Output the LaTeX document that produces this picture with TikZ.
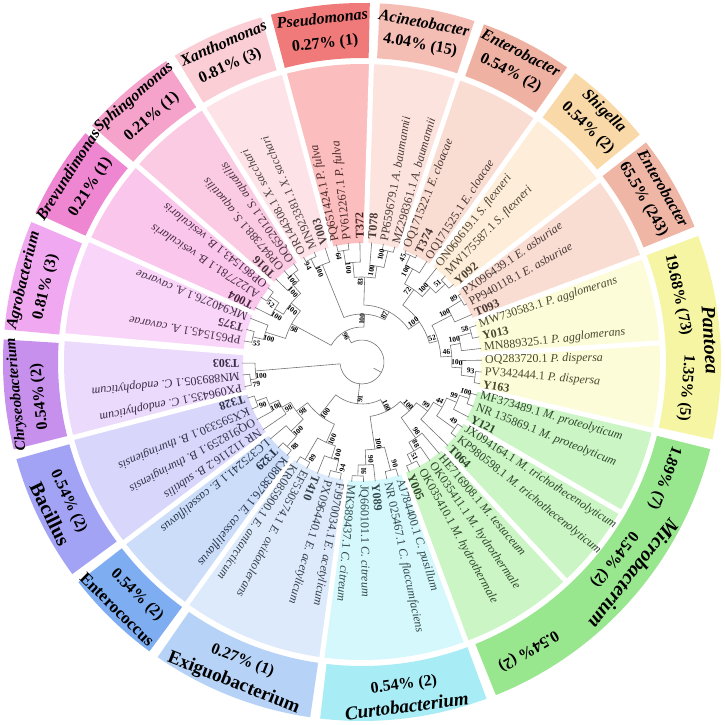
\documentclass[tikz,border=0pt]{standalone}
\usepackage{fontspec}
\setmainfont{Liberation Serif}

\definecolor{treegray}{HTML}{737373}
\definecolor{pseudo}{HTML}{F07A7A}\definecolor{pseudoL}{HTML}{FBBDBD}
\definecolor{acine}{HTML}{F5BEB4}\definecolor{acineL}{HTML}{FCE3DE}
\definecolor{enta}{HTML}{EFB2A2}\definecolor{entaL}{HTML}{F9DDD3}
\definecolor{shig}{HTML}{FAD9A8}\definecolor{shigL}{HTML}{FDEDD9}
\definecolor{entb}{HTML}{EFB6A6}\definecolor{entbL}{HTML}{F9DDD3}
\definecolor{pant}{HTML}{F5F5A3}\definecolor{pantL}{HTML}{FCFCD8}
\definecolor{micr}{HTML}{98E68E}\definecolor{micrL}{HTML}{CBF5C5}
\definecolor{curt}{HTML}{A8ECF5}\definecolor{curtL}{HTML}{D5F8FC}
\definecolor{exig}{HTML}{B6D3F7}\definecolor{exigL}{HTML}{DCEAFB}
\definecolor{entc}{HTML}{7EADF2}\definecolor{entcL}{HTML}{CCDDFA}
\definecolor{bac}{HTML}{A3A3F5}\definecolor{bacL}{HTML}{D8D6FA}
\definecolor{chry}{HTML}{C690EC}\definecolor{chryL}{HTML}{EBDAFB}
\definecolor{agro}{HTML}{F0A8F0}\definecolor{agroL}{HTML}{F9D5FA}
\definecolor{brev}{HTML}{EE86D2}\definecolor{brevL}{HTML}{FAC6EC}
\definecolor{sph}{HTML}{F5A3CB}\definecolor{sphL}{HTML}{FBCBE3}
\definecolor{xan}{HTML}{FACED4}\definecolor{xanL}{HTML}{FDE3E8}

\newcommand{\lang}[1]{91-5.634*(#1)}
\newcommand{\isol}[1]{\textbf{#1}}
\newcommand{\spn}[1]{\textit{#1}}
\newcounter{bsn}
% inner wedge between two leaf positions
\newcommand{\sector}[3]{%
  \fill[#3] ({\lang{#1}}:119pt) arc[start angle={\lang{#1}}, end angle={\lang{#2}}, radius=119pt]
    -- ({\lang{#2}}:298pt) arc[start angle={\lang{#2}}, end angle={\lang{#1}}, radius=298pt] -- cycle;}
% outer ring box between two angles
\newcommand{\band}[3]{%
  \fill[#3] (#1:304pt) arc[start angle=#1, end angle=#2, radius=304pt]
    -- (#2:359pt) arc[start angle=#2, end angle=#1, radius=359pt] -- cycle;}
% clade: radius, child 1 (index, radius), child 2 (index, radius), support
\newcommand{\tn}[6]{%
  \draw[branch] ({\lang{#2}}:#3pt) -- ({\lang{#2}}:#1pt)
    arc[start angle={\lang{#2}}, end angle={\lang{#4}}, radius=#1pt] -- ({\lang{#4}}:#5pt);
  \pgfmathsetmacro\bsang{\lang{(#2+#4)/2}}%
  \pgfmathsetmacro\bsrot{cos(\bsang)>=0 ? \bsang : \bsang+180}%
  \pgfmathsetmacro\bsrad{#1-5}%
  \stepcounter{bsn}%
  \node (bs\arabic{bsn}) [boot, rotate=\bsrot] at ({\bsang+3}:\bsrad pt) {#6};}

\tikzset{
  branch/.style={draw=treegray, line width=0.6pt},
  leaf/.style={anchor=west, inner sep=1pt, font=\fontsize{12}{13}\selectfont},
  boot/.style={inner sep=0pt, font=\fontsize{7.5}{8}\selectfont\bfseries},
  genus/.style={inner sep=0pt, font=\fontsize{16}{18}\selectfont\bfseries\itshape},
  share/.style={inner sep=0pt, font=\fontsize{16}{18}\selectfont\bfseries},
  gap/.style={draw=white, line width=5pt}
}

\begin{document}
\begin{tikzpicture}
\fill[white] (-362pt,-362pt) rectangle (363pt,362pt);
\useasboundingbox (-362pt,-362pt) rectangle (363pt,362pt);

% outer ring
\band{88.75}{104.7}{pseudo}
\band{71.75}{87.15}{acine}
\band{55.15}{70.15}{enta}
\band{39.3}{53.55}{shig}
\band{22.15}{37.7}{entb}
\band{-12.45}{20.55}{pant}
\band{-68.1}{-14.05}{micr}
\band{263.3}{290.3}{curt}
\band{235.3}{261.7}{exig}
\band{217.8}{233.7}{entc}
\band{195.7}{216.2}{bac}
\band{176.4}{194.1}{chry}
\band{157.05}{174.8}{agro}
\band{140.4}{155.45}{brev}
\band{123.05}{138.8}{sph}
\band{106.3}{121.45}{xan}

% inner wedges
\sector{-2.5}{0.5}{pseudoL}
\sector{0.5}{3.5}{acineL}
\sector{3.5}{6.5}{entaL}
\sector{6.5}{9.5}{shigL}
\sector{9.5}{12.5}{entbL}
\sector{12.5}{15.5}{pantL}
\sector{15.5}{18.5}{pantL}
\sector{18.5}{21.5}{micrL}
\sector{21.5}{24.5}{micrL}
\sector{24.5}{28.5}{micrL}
\sector{28.5}{33.5}{curtL}
\sector{33.5}{38.5}{exigL}
\sector{38.5}{41.5}{entcL}
\sector{41.5}{45.5}{bacL}
\sector{45.5}{48.9}{chryL}
\sector{-14.9}{-11.5}{agroL}
\sector{-11.5}{-8.5}{brevL}
\sector{-8.5}{-5.5}{sphL}
\sector{-5.5}{-2.5}{xanL}
\foreach \k in {-2.5,0.5,3.5,6.5,9.5,12.5,15.5,18.5,21.5,24.5,28.5,33.5,38.5,41.5,45.5,48.9,-14.9,-11.5,-8.5,-5.5}
  \draw[gap] ({\lang{\k}}:117pt) -- ({\lang{\k}}:301pt);

% tree
\tn{113}{-2}{120}{-1}{120}{64}
\tn{100}{-1.5}{113}{0}{120}{100}
\tn{114}{2}{120}{3}{120}{100}
\tn{97}{1}{120}{2.5}{114}{100}
\tn{85}{-0.75}{100}{1.75}{97}{83}
\tn{117}{4}{120}{5}{120}{45}
\tn{106}{4.5}{117}{6}{120}{100}
\tn{114}{8}{120}{9}{120}{51}
\tn{101}{7}{120}{8.5}{114}{100}
\tn{89}{5.25}{106}{7.75}{101}{72}
\tn{117}{10}{120}{11}{120}{89}
\tn{101}{10.5}{117}{12}{120}{100}
\tn{113}{13}{120}{14}{120}{58}
\tn{100}{13.5}{113}{15}{120}{100}
\tn{114}{17}{120}{18}{120}{93}
\tn{100}{16}{120}{17.5}{114}{100}
\tn{90}{14.25}{100}{16.75}{100}{46}
\tn{79}{11.25}{101}{15.5}{90}{52}
\tn{70}{6.5}{89}{13.375}{79}{100}
\tn{57}{0.5}{85}{9.9375}{70}{87}
\tn{115}{-5}{120}{-4}{120}{94}
\tn{105}{-4.5}{115}{-3}{120}{100}
\tn{48}{-3.75}{105}{5.21875}{57}{100}
\tn{112}{-14}{120}{-13}{120}{55}
\tn{101}{-13.5}{112}{-12}{120}{100}
\tn{113}{-10}{120}{-9}{120}{52}
\tn{102}{-11}{120}{-9.5}{113}{100}
\tn{112}{-7}{120}{-6}{120}{100}
\tn{103}{-8}{120}{-6.5}{112}{100}
\tn{92}{-10.25}{102}{-7.25}{103}{100}
\tn{80}{-12.75}{101}{-8.75}{92}{98}
\tn{35}{-10.75}{80}{0.734375}{48}{96}
\tn{113}{46}{120}{47}{120}{79}
\tn{107}{46.5}{113}{48}{120}{100}
\tn{113}{34}{120}{35}{120}{94}
\tn{101}{34.5}{113}{36}{120}{100}
\tn{113}{37}{120}{38}{120}{89}
\tn{88}{35.25}{101}{37.5}{113}{100}
\tn{113}{39}{120}{40}{120}{88}
\tn{99}{39.5}{113}{41}{120}{100}
\tn{113}{44}{120}{45}{120}{90}
\tn{102}{43}{120}{44.5}{113}{100}
\tn{92}{42}{120}{43.75}{102}{98}
\tn{82}{40.25}{99}{42.875}{92}{98}
\tn{68}{36.375}{88}{41.5625}{82}{100}
\tn{112}{29}{120}{30}{120}{90}
\tn{114}{32}{120}{33}{120}{91}
\tn{103}{31}{120}{32.5}{114}{90}
\tn{88}{29.5}{112}{31.75}{103}{100}
\tn{113}{19}{120}{20}{120}{100}
\tn{103}{19.5}{113}{21}{120}{99}
\tn{114}{22}{120}{23}{120}{49}
\tn{92}{20.25}{103}{22.5}{114}{44}
\tn{82}{21.375}{92}{24}{120}{99}
\tn{113}{27}{120}{28}{120}{51}
\tn{103}{26}{120}{27.5}{113}{88}
\tn{93}{25}{120}{26.75}{103}{98}
\tn{68}{22.6875}{82}{25.875}{93}{100}
\tn{55}{24.28125}{68}{30.625}{88}{100}
\tn{42}{27.453125}{55}{38.96875}{68}{91}
% root
\draw[branch] ({\lang{21.121}}:13pt) -- ({\lang{21.121}}:22pt);
\draw[branch] ({\lang{-5.0078}}:35pt) -- ({\lang{-5.0078}}:22pt)
  arc[start angle={\lang{-5.0078}}, end angle={\lang{47.25}}, radius=22pt] -- ({\lang{47.25}}:107pt);
\draw[branch] ({\lang{33.211}}:22pt) -- ({\lang{33.211}}:42pt);

% leaves
\foreach \i/\cl/\lab in {
  -2/pseudo/PQ651424.1 \spn{P. fulva}, -1/pseudo/PV612267.1 \spn{P. fulva}, 0/pseudo/\isol{T372},
  1/acine/\isol{T078}, 2/acine/PP659679.1 \spn{A. baumannii}, 3/acine/MZ298361.1 \spn{A. baumannii},
  4/enta/OQ171522.1 \spn{E. cloacae}, 5/enta/\isol{T374}, 6/enta/OQ171525.1 \spn{E. cloacae},
  7/shig/ON060619.1 \spn{S. flexneri}, 8/shig/MW175587.1 \spn{S. flexneri}, 9/shig/\isol{Y092},
  10/entb/PX096439.1 \spn{E. asburiae}, 11/entb/PP940118.1 \spn{E. asburiae}, 12/entb/\isol{T093},
  13/pant/MW730583.1 \spn{P. agglomerans}, 14/pant/\isol{Y013}, 15/pant/MN889325.1 \spn{P. agglomerans},
  16/pant/OQ283720.1 \spn{P. dispersa}, 17/pant/PV342444.1 \spn{P. dispersa}, 18/pant/\isol{Y163},
  19/micr/MF373489.1 \spn{M. proteolyticum}, 20/micr/NR 135869.1 \spn{M. proteolyticum}, 21/micr/\isol{Y121},
  22/micr/JX094164.1 \spn{M. trichothecenolyticum}, 23/micr/KP980598.1 \spn{M. trichothecenolyticum}, 24/micr/\isol{T064},
  25/micr/HE716908.1 \spn{M. testaceum}, 26/micr/OK035411.1 \spn{M. hydrothermale}, 27/micr/OK035410.1 \spn{M. hydrothermale}, 28/micr/\isol{Y005},
  29/curt/AJ784400.1 \spn{C. pusillum}, 30/curt/NR 025467.1 \spn{C. flaccumfaciens}, 31/curt/\isol{Y089},
  32/curt/JQ660101.1 \spn{C. citreum}, 33/curt/MK389437.1 \spn{C. citreum},
  34/exig/FJ970034.1 \spn{E. acetylicum}, 35/exig/PX096440.1 \spn{E. acetylicum}, 36/exig/\isol{T410},
  37/exig/EF530574.1 \spn{E. oxidotolerans}, 38/exig/KR085900.1 \spn{E. antarcticum},
  39/entc/KJ803876.1 \spn{E. casseliflavus}, 40/entc/\isol{T329}, 41/entc/LC375241.1 \spn{E. casseliflavus},
  42/bac/NR 112116.2 \spn{B. subtilis}, 43/bac/OQ918259.1 \spn{B. thuringiensis}, 44/bac/KX595330.1 \spn{B. thuringiensis}, 45/bac/\isol{T328},
  46/chry/PX096435.1 \spn{C. endophyticum}, 47/chry/MN889305.1 \spn{C. endophyticum}, 48/chry/\isol{T303},
  -14/agro/PP651545.1 \spn{A. cavarae}, -13/agro/\isol{T375}, -12/agro/MK940276.1 \spn{A. cavarae},
  -11/brev/\isol{T004}, -10/brev/AJ227781.1 \spn{B. vesicularis}, -9/brev/OP861543.1 \spn{B. vesicularis},
  -8/sph/\isol{T016}, -7/sph/OP847388.1 \spn{S. aquatilis}, -6/sph/OQ652012.1 \spn{S. aquatilis},
  -5/xan/OR144308.1 \spn{X. sacchari}, -4/xan/MN923381.1 \spn{X. sacchari}, -3/xan/\isol{V003}}
  \node (l\i) [leaf, text=\cl!30!black, rotate={\lang{\i}}] at ({\lang{\i}}:122pt) {\lab};

% genus labels
\node (gPse) [genus, rotate=6.6] at (96.6:346pt) {Pseudomonas};
\node (sPse) [share, rotate=6.6] at (96.6:320pt) {0.27\% (1)};
\node (gAci) [genus, rotate=-10.4] at (79.6:345pt) {Acinetobacter};
\node (sAci) [share, rotate=-10.4] at (79.6:322pt) {4.04\% (15)};
\node (gEnA) [genus, rotate=-27.2] at (62.8:348pt) {Enterobacter};
\node (sEnA) [share, rotate=-27.2] at (62.8:325pt) {0.54\% (2)};
\node (gShi) [genus, rotate=-44] at (46:348pt) {Shigella};
\node (sShi) [share, rotate=-44] at (46:325pt) {0.54\% (2)};
\node (gEnB) [genus, rotate=-60] at (30:348pt) {Enterobacter};
\node (sEnB) [share, rotate=-60] at (30:325pt) {65.5\% (243)};
\node (gPan) [genus, font=\fontsize{20}{22}\selectfont\bfseries\itshape, rotate=-86.4] at (3.6:349pt) {Pantoea};
\node (sPan1) [share, rotate=-78] at (12:323pt) {19.68\% (73)};
\node (sPan2) [share, rotate=-94.6] at (-4.6:325pt) {1.35\% (5)};
\node (gMic) [genus, font=\fontsize{20}{22}\selectfont\bfseries\itshape, rotate=-128] at (-38:345pt) {Microbacterium};
\node (sMic1) [share, rotate=-111] at (-21:324pt) {1.89\% (7)};
\node (sMic2) [share, rotate=-128] at (-38:320pt) {0.54\% (2)};
\node (sMic3) [share, rotate=-150] at (-60:333pt) {0.54\% (2)};
\node (sCur) [share, rotate=7.4] at (277.4:326pt) {0.54\% (2)};
\node (gCur) [genus, font=\fontsize{19}{21}\selectfont\bfseries\itshape, rotate=7.4] at (277.4:347pt) {Curtobacterium};
\node (sExi) [share, rotate=-21.8] at (248.2:322pt) {0.27\% (1)};
\node (gExi) [share, font=\fontsize{19}{21}\selectfont\bfseries, rotate=-21.8] at (248.2:346pt) {Exiguobacterium};
\node (sEnc) [share, rotate=-44] at (226:324pt) {0.54\% (2)};
\node (gEnc) [share, font=\fontsize{17}{19}\selectfont\bfseries, rotate=-44.7] at (225.3:348pt) {Enterococcus};
\node (sBac) [share, rotate=-64.6] at (205.4:325pt) {0.54\% (2)};
\node (gBac) [share, font=\fontsize{20}{22}\selectfont\bfseries, rotate=-64] at (206:347pt) {Bacillus};
\node (gChr) [genus, font=\fontsize{15}{17}\selectfont\bfseries\itshape, rotate=95.4] at (185.4:347pt) {Chryseobacterium};
\node (sChr) [share, rotate=96.2] at (186.2:324pt) {0.54\% (2)};
\node (gAgr) [genus, rotate=76.4] at (166.4:348pt) {Agrobacterium};
\node (sAgr) [share, rotate=76.7] at (166.7:325pt) {0.81\% (3)};
\node (gBre) [genus, rotate=57.5] at (147.5:349pt) {Brevundimonas};
\node (sBre) [share, rotate=57.2] at (147.2:323pt) {0.21\% (1)};
\node (gSph) [genus, rotate=40.8] at (130.8:349pt) {Sphingomonas};
\node (sSph) [share, rotate=40.6] at (130.6:323pt) {0.21\% (1)};
\node (gXan) [genus, rotate=23.5] at (113.5:348pt) {Xanthomonas};
\node (sXan) [share, rotate=24] at (114:324pt) {0.81\% (3)};
\end{tikzpicture}
\end{document}
